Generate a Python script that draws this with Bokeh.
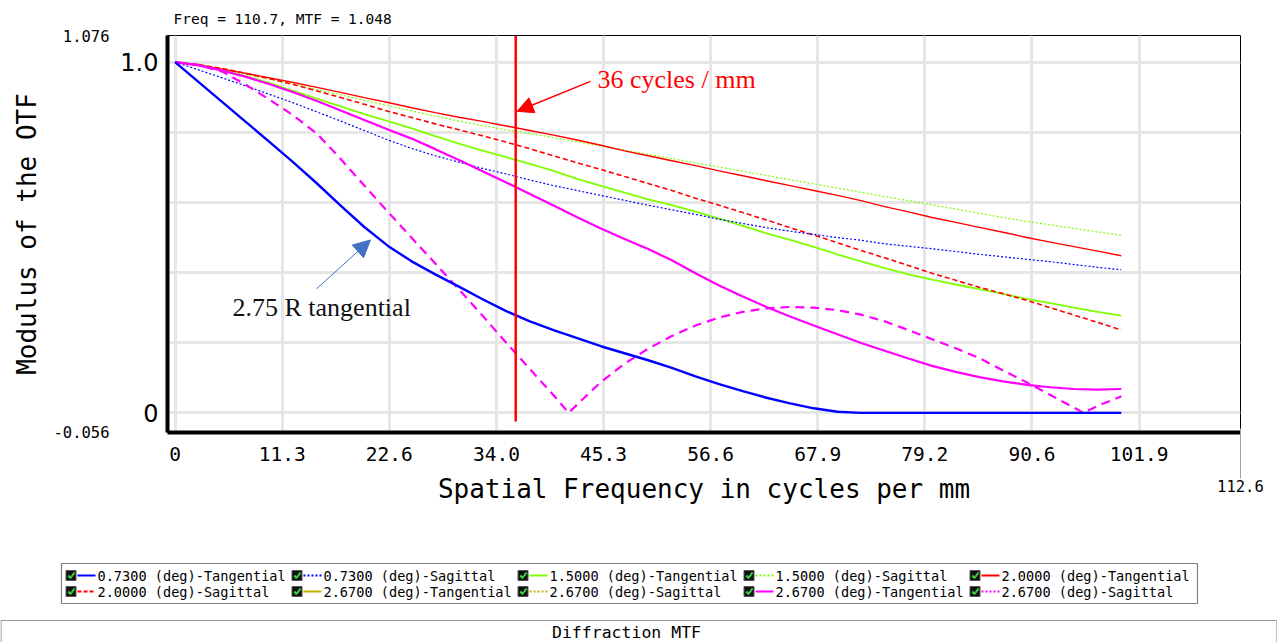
from bokeh.plotting import figure
from bokeh.models import (Range1d, FixedTicker, CustomJSTickFormatter, Label, Arrow,
                          NormalHead, LinearAxis)
from bokeh.layouts import column
from bokeh.embed import file_html
from bokeh.resources import INLINE
from bokeh.core.properties import value

# ---------------- data ----------------
freq = [0, 2.5, 5, 7.5, 10, 12.5, 15, 17.5, 20, 22.5, 25, 27.5, 30, 32.5, 35, 37.5,
        40, 42.5, 45, 47.5, 50, 52.5, 55, 57.5, 60, 62.5, 65, 67.5, 70, 72.5, 75,
        77.5, 80, 82.5, 85, 87.5, 90, 92.5, 95, 97.5, 100]

f073_tan = [1.000, 0.943, 0.886, 0.829, 0.772, 0.714, 0.654, 0.591, 0.530, 0.476, 0.432,
            0.395, 0.360, 0.324, 0.290, 0.261, 0.236, 0.213, 0.190, 0.170, 0.150, 0.128,
            0.104, 0.082, 0.062, 0.043, 0.027, 0.013, 0.003, 0.0, 0.0, 0.0, 0.0, 0.0,
            0.0, 0.0, 0.0, 0.0, 0.0, 0.0, 0.0]
f073_sag = [1.000, 0.978, 0.955, 0.932, 0.908, 0.884, 0.858, 0.832, 0.805, 0.778, 0.754,
            0.733, 0.715, 0.697, 0.681, 0.664, 0.648, 0.634, 0.620, 0.606, 0.592, 0.579,
            0.566, 0.552, 0.540, 0.528, 0.518, 0.509, 0.500, 0.492, 0.482, 0.475, 0.468,
            0.460, 0.452, 0.445, 0.438, 0.431, 0.423, 0.415, 0.408]
f150_tan = [1.000, 0.993, 0.978, 0.960, 0.940, 0.918, 0.896, 0.874, 0.852, 0.832, 0.811,
            0.789, 0.768, 0.748, 0.729, 0.710, 0.690, 0.667, 0.647, 0.628, 0.609, 0.592,
            0.574, 0.554, 0.533, 0.512, 0.493, 0.473, 0.452, 0.432, 0.413, 0.395, 0.380,
            0.366, 0.353, 0.339, 0.325, 0.313, 0.300, 0.288, 0.277]
f150_sag = [1.000, 0.990, 0.978, 0.965, 0.951, 0.937, 0.922, 0.907, 0.891, 0.876, 0.861,
            0.846, 0.832, 0.819, 0.807, 0.796, 0.785, 0.773, 0.761, 0.749, 0.737, 0.725,
            0.713, 0.701, 0.689, 0.677, 0.665, 0.653, 0.641, 0.629, 0.617, 0.605, 0.593,
            0.581, 0.569, 0.557, 0.546, 0.536, 0.526, 0.516, 0.506]
f200_tan = [1.000, 0.991, 0.980, 0.968, 0.955, 0.942, 0.928, 0.914, 0.899, 0.885, 0.870,
            0.856, 0.843, 0.831, 0.818, 0.805, 0.792, 0.778, 0.763, 0.747, 0.733, 0.719,
            0.705, 0.690, 0.676, 0.662, 0.648, 0.634, 0.620, 0.605, 0.588, 0.573, 0.557,
            0.543, 0.529, 0.515, 0.500, 0.487, 0.474, 0.461, 0.448]
f200_sag = [1.000, 0.993, 0.982, 0.968, 0.953, 0.936, 0.918, 0.899, 0.880, 0.860, 0.842,
            0.824, 0.807, 0.790, 0.772, 0.753, 0.733, 0.713, 0.694, 0.674, 0.654, 0.634,
            0.612, 0.592, 0.571, 0.550, 0.528, 0.507, 0.485, 0.463, 0.442, 0.420, 0.398,
            0.378, 0.358, 0.340, 0.321, 0.300, 0.279, 0.258, 0.236]
f267_tan = [1.000, 0.991, 0.976, 0.958, 0.937, 0.914, 0.889, 0.862, 0.835, 0.808, 0.782,
            0.752, 0.721, 0.689, 0.657, 0.624, 0.591, 0.558, 0.526, 0.496, 0.467, 0.435,
            0.398, 0.363, 0.332, 0.302, 0.275, 0.249, 0.224, 0.199, 0.177, 0.155, 0.134,
            0.117, 0.102, 0.090, 0.080, 0.073, 0.068, 0.066, 0.068]

f267_sag_freq = [0, 2.5, 5, 7.5, 10, 12.5, 15, 17.5, 20, 22.5, 25, 27.5, 30, 32.5, 35,
                 37.5, 40, 41.6, 42.5, 45, 47.5, 50, 52.5, 55, 57.5, 60, 62.5, 65, 67.5,
                 70, 72.5, 75, 77.5, 80, 82.5, 85, 87.5, 90, 92.5, 95, 96.0, 97.5, 100]
f267_sag = [1.000, 0.992, 0.973, 0.935, 0.893, 0.848, 0.796, 0.724, 0.648, 0.573, 0.499,
            0.426, 0.352, 0.277, 0.200, 0.125, 0.050, 0.0, 0.024, 0.088, 0.140, 0.183,
            0.219, 0.249, 0.272, 0.288, 0.298, 0.302, 0.300, 0.293, 0.280, 0.261, 0.236,
            0.210, 0.184, 0.156, 0.121, 0.087, 0.051, 0.015, 0.0, 0.020, 0.047]

marker_freq = 36

x_ticks = [0, 11.32, 22.64, 33.96, 45.28, 56.6, 67.92, 79.24, 90.56, 101.88]
x_tick_labels = ["0", "11.3", "22.6", "34.0", "45.3", "56.6", "67.9", "79.2", "90.6", "101.9"]
x_end_ticks = [112.59]
x_end_labels = ["112.6"]
y_ticks = [0, 1.0]
y_tick_labels = ["0", "1.0"]
y_end_ticks = [-0.0559, 1.0759]
y_end_labels = ["-0.056", "1.076"]
y_grid = [0, 0.2, 0.4, 0.6, 0.8, 1.0]

legend_labels = ["0.7300 (deg)-Tangential", "0.7300 (deg)-Sagittal",
                 "1.5000 (deg)-Tangential", "1.5000 (deg)-Sagittal",
                 "2.0000 (deg)-Tangential", "2.0000 (deg)-Sagittal",
                 "2.6700 (deg)-Tangential", "2.6700 (deg)-Sagittal",
                 "2.6700 (deg)-Tangential", "2.6700 (deg)-Sagittal"]

# ---------------- styles ----------------
BLUE, GREEN, RED, OLIVE, MAGENTA = "#0000ff", "#80ff00", "#ff0000", "#bdb200", "#ff00ff"
legend_colors = [BLUE, BLUE, GREEN, GREEN, RED, RED, OLIVE, OLIVE, MAGENTA, MAGENTA]
legend_dashes = ["solid", "2 2", "solid", "2 2", "solid", "4 2", "solid", "2 2", "solid", "2 2"]
MONO = "DejaVu Sans Mono"

# ---------------- main chart ----------------
X_LO, X_HI = -0.8, 112.6
Y_LO, Y_HI = -0.056, 1.076
W, H = 1277, 520
FL, FR, FT, FB = 167, 1240, 34, 432  # frame edges in page pixels


def sx(px):
    return X_LO + (px - FL) * (X_HI - X_LO) / (FR - FL)


def sy(py):
    return Y_HI - (py - FT) * (Y_HI - Y_LO) / (FB - FT)


def tick_fmt(tv, tl):
    return CustomJSTickFormatter(
        args=dict(tvals=tv, tlabs=tl),
        code="const i = tvals.findIndex(t => Math.abs(t - tick) < 1e-6); "
             "return i >= 0 ? tlabs[i] : '';")


p = figure(width=W, height=H, x_range=Range1d(X_LO, X_HI), y_range=Range1d(Y_LO, Y_HI),
           output_backend="svg", toolbar_location=None, title="Freq = 110.7, MTF = 1.048",
           min_border_left=FL, min_border_right=W - FR, min_border_top=FT,
           min_border_bottom=H - FB)
p.background_fill_color = "white"
p.border_fill_color = "white"
p.outline_line_color = "black"
p.outline_line_width = 1

p.title.align = "left"
p.title.offset = 6
p.title.standoff = 17
p.title.text_font = MONO
p.title.text_font_size = "14.5px"
p.title.text_font_style = "normal"
p.title.text_color = "black"

ax_x = p.xaxis[0]
ax_y = p.yaxis[0]

ax_x.ticker = FixedTicker(ticks=x_ticks)
ax_x.formatter = tick_fmt(x_ticks, x_tick_labels)
ax_y.ticker = FixedTicker(ticks=y_ticks)
ax_y.formatter = tick_fmt(y_ticks, y_tick_labels)
p.xgrid.ticker = FixedTicker(ticks=x_ticks)
p.ygrid.ticker = FixedTicker(ticks=y_grid)
p.grid.grid_line_color = "#e6e6e6"
p.grid.grid_line_width = 3

for ax in (ax_x, ax_y):
    ax.axis_line_width = 4
    ax.axis_line_color = "black"
    ax.major_tick_line_color = None
    ax.minor_tick_line_color = None
    ax.major_label_text_color = "black"

ax_x.major_label_standoff = 8
ax_x.major_label_text_font = MONO
ax_x.major_label_text_font_size = "19.5px"
ax_y.major_label_standoff = 3
ax_y.major_label_text_font = "DejaVu Sans"
ax_y.major_label_text_font_size = "24px"

# outer axes: range end values, the end tick and the axis titles
x_outer = LinearAxis(ticker=FixedTicker(ticks=x_end_ticks),
                     formatter=tick_fmt(x_end_ticks, x_end_labels),
                     axis_line_color=None, major_tick_line_color="#a0a0a0",
                     major_tick_line_width=1, major_tick_in=35, major_tick_out=15,
                     minor_tick_line_color=None, major_label_standoff=1,
                     major_label_text_font=MONO, major_label_text_font_size="15.5px",
                     major_label_text_color="black",
                     axis_label="Spatial Frequency in cycles per mm",
                     axis_label_standoff=-21, axis_label_text_font=MONO,
                     axis_label_text_font_size="26px", axis_label_text_font_style="normal",
                     axis_label_text_color="black")
p.add_layout(x_outer, "below")

y_outer = LinearAxis(ticker=FixedTicker(ticks=y_end_ticks),
                     formatter=tick_fmt(y_end_ticks, y_end_labels),
                     axis_line_color=None, major_tick_line_color=None,
                     minor_tick_line_color=None, major_label_standoff=2,
                     major_label_text_font=MONO, major_label_text_font_size="15.5px",
                     major_label_text_color="black",
                     axis_label="Modulus of the OTF",
                     axis_label_standoff=9, axis_label_text_font=MONO,
                     axis_label_text_font_size="26px", axis_label_text_font_style="normal",
                     axis_label_text_color="black")
p.add_layout(y_outer, "left")

# curves
p.line(freq, f150_sag, color=GREEN, line_width=1.2, line_dash="2 2")
p.line(freq, f150_tan, color=GREEN, line_width=1.8)
p.line(freq, f200_tan, color=RED, line_width=1.4)
p.line(freq, f200_sag, color=RED, line_width=1.6, line_dash="5 3")
p.line(freq, f073_sag, color=BLUE, line_width=1.2, line_dash="2 2")
p.line(freq, f267_tan, color=MAGENTA, line_width=2.2)
p.line(f267_sag_freq, f267_sag, color=MAGENTA, line_width=2.2, line_dash="9 6")
p.line(freq, f073_tan, color=BLUE, line_width=2.4)

# 36 cycles/mm marker
p.segment(x0=[marker_freq], y0=[sy(421)], x1=[marker_freq], y1=[Y_HI],
          line_color=RED, line_width=2.5)
p.add_layout(Arrow(end=NormalHead(size=16, fill_color=RED, line_color=RED),
                   x_start=sx(590), y_start=sy(80), x_end=marker_freq + 0.15, y_end=sy(110),
                   line_color=RED, line_width=1.5))
p.add_layout(Label(x=sx(597), y=sy(78), text="36 cycles / mm", text_color=RED,
                   text_font="Liberation Serif", text_font_size="26px",
                   text_baseline="middle", text_align="left"))

# field annotation
ANN = "#4472c4"
p.add_layout(Arrow(end=NormalHead(size=17, fill_color=ANN, line_color=ANN),
                   x_start=sx(316), y_start=sy(288), x_end=sx(370), y_end=sy(239),
                   line_color=ANN, line_width=1))
p.add_layout(Label(x=sx(232), y=sy(307), text="2.75 R tangential", text_color="#111111",
                   text_font="Liberation Serif", text_font_size="26px",
                   text_baseline="middle", text_align="left"))

# ---------------- legend + footer strip ----------------
H2 = 642 - H
leg = figure(width=W, height=H2, x_range=Range1d(0, W), y_range=Range1d(642, H),
             output_backend="svg", toolbar_location=None, min_border=0,
             min_border_left=0, min_border_right=0, min_border_top=0, min_border_bottom=0,
             x_axis_location=None, y_axis_location=None, outline_line_color=None)
leg.grid.visible = False
leg.background_fill_color = "white"
leg.border_fill_color = "white"

for f in (p, leg):
    if "frame_align" in f.properties():
        f.frame_align = False

col_x = [66, 292, 518, 744, 970]
row_y = [575, 591]
leg.quad(left=[61], right=[1197], top=[563], bottom=[603], fill_color=None,
         line_color="#808080", line_width=1.2)

for i, lab in enumerate(legend_labels):
    cx = col_x[i % 5]
    cy = row_y[i // 5]
    leg.rect(x=[cx + 4.5], y=[cy], width=10, height=10, fill_color="#111111",
             line_color="#555555", line_width=1)
    leg.line([cx + 1.8, cx + 4, cx + 8], [cy, cy + 2.5, cy - 3], line_color="#3fd43f",
             line_width=2)
    leg.line([cx + 11, cx + 29], [cy, cy], line_color=legend_colors[i], line_width=2,
             line_dash=legend_dashes[i])
    leg.text(x=[cx + 31], y=[cy], text=[lab], text_font=value(MONO),
             text_font_size="13.6px", text_baseline="middle", text_align="left",
             text_color="black")

leg.quad(left=[0.5], right=[1276.5], top=[620], bottom=[660], fill_color=None,
         line_color="#999999", line_width=1.2)
leg.text(x=[626], y=[632], text=["Diffraction MTF"], text_font=value(MONO),
         text_font_size="16.5px", text_baseline="middle", text_align="center",
         text_color="black")

layout = column(p, leg, spacing=0)
open("out.html", "w").write(file_html(layout, INLINE))
